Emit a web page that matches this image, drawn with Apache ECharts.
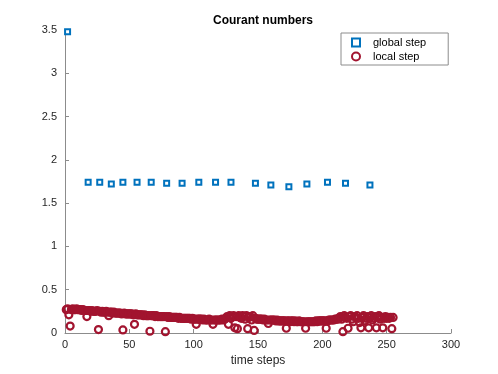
<!DOCTYPE html>
<html><head><meta charset="utf-8">
<script src="https://cdn.jsdelivr.net/npm/echarts@6/dist/echarts.min.js"></script>
<style>html,body{margin:0;padding:0;background:#fff}#c{width:498px;height:374px}</style>
</head><body><div id="c"></div>
<script>
var titleText = 'Courant numbers';
var xLabel = 'time steps';
var globalSteps = [2,18,27,36,45,56,67,79,91,104,117,129,148,160,174,188,204,218,237];
var globalValues = [3.48,1.74,1.74,1.72,1.74,1.74,1.74,1.73,1.73,1.74,1.74,1.74,1.73,1.71,1.69,1.72,1.74,1.73,1.71];
var localStart = 1;
var localValues = [
0.27,0.28,0.21,0.08,0.27,0.28,0.27,0.27,0.28,0.27,
0.27,0.27,0.26,0.27,0.26,0.26,0.19,0.26,0.26,0.25,
0.26,0.25,0.25,0.25,0.26,0.04,0.25,0.24,0.25,0.24,
0.24,0.25,0.24,0.20,0.24,0.24,0.23,0.24,0.23,0.23,
0.23,0.23,0.23,0.22,0.035,0.23,0.22,0.22,0.22,0.22,
0.22,0.22,0.21,0.10,0.22,0.21,0.21,0.21,0.21,0.21,
0.20,0.21,0.20,0.20,0.20,0.02,0.20,0.20,0.20,0.19,
0.20,0.19,0.19,0.19,0.19,0.19,0.19,0.015,0.19,0.18,
0.19,0.18,0.18,0.18,0.18,0.18,0.18,0.17,0.18,0.17,
0.17,0.17,0.17,0.17,0.17,0.17,0.17,0.16,0.17,0.16,
0.16,0.10,0.16,0.16,0.16,0.16,0.15,0.16,0.15,0.15,
0.15,0.16,0.15,0.15,0.10,0.15,0.15,0.15,0.15,0.15,
0.15,0.16,0.15,0.16,0.17,0.19,0.10,0.20,0.17,0.19,
0.20,0.06,0.19,0.05,0.20,0.18,0.17,0.20,0.19,0.16,
0.20,0.05,0.18,0.19,0.15,0.20,0.03,0.17,0.16,0.16,
0.16,0.16,0.16,0.15,0.16,0.15,0.15,0.11,0.15,0.15,
0.15,0.15,0.15,0.14,0.15,0.14,0.14,0.14,0.14,0.14,
0.14,0.055,0.14,0.14,0.13,0.14,0.14,0.13,0.14,0.13,
0.13,0.14,0.13,0.13,0.13,0.13,0.055,0.13,0.13,0.13,
0.13,0.13,0.13,0.13,0.14,0.13,0.14,0.14,0.14,0.14,
0.14,0.14,0.055,0.14,0.15,0.15,0.15,0.15,0.15,0.16,
0.16,0.16,0.17,0.19,0.16,0.015,0.20,0.18,0.17,0.055,
0.19,0.20,0.16,0.13,0.19,0.18,0.20,0.17,0.12,0.06,
0.18,0.20,0.14,0.17,0.19,0.06,0.18,0.20,0.15,0.17,
0.19,0.06,0.18,0.20,0.16,0.18,0.06,0.17,0.19,0.17,
0.18,0.17,0.18,0.05,0.18
];
var xTicks = [0,50,100,150,200,250,300];
var yTicks = [0,0.5,1,1.5,2,2.5,3,3.5];

var globalData = globalSteps.map(function(x,i){return [x, globalValues[i]];});
var localData = localValues.map(function(v,i){return [localStart+i, v];});

var axisCol = '#8c8c8c', txtCol = '#262626';
var chart = echarts.init(document.getElementById('c'));
chart.setOption({
  animation:false,
  title:{text:titleText,left:258,top:10,textAlign:'center',textStyle:{fontFamily:'Liberation Sans, Arial',fontSize:12,fontWeight:'bold',color:'#000'}},
  grid:{left:65,right:47,top:30,bottom:41},
  legend:{orient:'vertical',left:341,top:33,itemWidth:8,itemHeight:8,itemGap:3,
    padding:[4,22,3,10],borderColor:'#8c8c8c',borderWidth:1,backgroundColor:'#fff',
    textStyle:{fontFamily:'Liberation Sans, Arial',fontSize:11,color:'#000',padding:[0,0,0,8]},
    data:['global step','local step']},
  xAxis:{type:'value',min:xTicks[0],max:xTicks[xTicks.length-1],interval:50,
    name:xLabel,nameLocation:'middle',nameGap:21,nameTextStyle:{fontFamily:'Liberation Sans, Arial',fontSize:12,color:txtCol},
    axisLine:{lineStyle:{color:axisCol,width:1}},axisTick:{inside:true,length:4,lineStyle:{color:axisCol}},
    axisLabel:{fontFamily:'Liberation Sans, Arial',fontSize:11,color:txtCol,margin:6},splitLine:{show:false}},
  yAxis:{type:'value',min:yTicks[0],max:yTicks[yTicks.length-1],interval:0.5,
    axisLine:{show:true,lineStyle:{color:axisCol,width:1}},axisTick:{show:true,inside:true,length:4,lineStyle:{color:axisCol}},
    axisLabel:{fontFamily:'Liberation Sans, Arial',fontSize:11,color:txtCol,margin:8},splitLine:{show:false}},
  series:[
    {name:'global step',type:'scatter',symbol:'rect',symbolSize:5,data:globalData,z:3,
      itemStyle:{color:'#ffffff',borderColor:'#0072BD',borderWidth:2,opacity:1}},
    {name:'local step',type:'scatter',symbol:'circle',symbolSize:7,data:localData,z:2,
      itemStyle:{color:'rgba(255,255,255,0)',borderColor:'#A2142F',borderWidth:2.2,opacity:1}}
  ]
});
</script></body></html>
